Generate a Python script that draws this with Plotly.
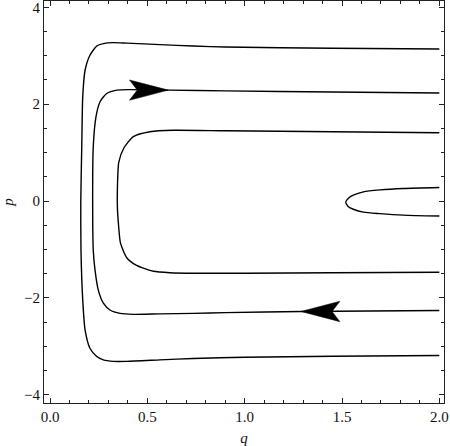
import plotly.graph_objects as go

# curve data (q, p), each traced from top-right, round the wall, to bottom-right
curve_a_q = [2.0, 1.45, 0.9, 0.736, 0.565, 0.394, 0.325, 0.274, 0.240, 0.205, 0.180, 0.168, 0.163, 0.158,
             0.159, 0.168, 0.180, 0.205, 0.240, 0.274, 0.325, 0.394, 0.565, 0.736, 1.0, 1.45, 2.0]
curve_a_p = [3.14, 3.155, 3.18, 3.20, 3.23, 3.26, 3.27, 3.25, 3.20, 3.01, 2.70, 2.15, 1.12, 0.0,
             -1.01, -2.04, -2.66, -3.04, -3.21, -3.28, -3.31, -3.31, -3.28, -3.25, -3.225, -3.205, -3.19]

curve_b_q = [2.0, 1.45, 0.9, 0.61, 0.411, 0.343, 0.291, 0.257, 0.236, 0.222, 0.219,
             0.222, 0.231, 0.248, 0.274, 0.308, 0.360, 0.428, 0.565, 0.736, 0.9, 1.29, 2.0]
curve_b_p = [2.23, 2.25, 2.275, 2.29, 2.30, 2.29, 2.22, 2.05, 1.74, 1.12, 0.0,
             -1.01, -1.42, -1.84, -2.11, -2.25, -2.32, -2.34, -2.33, -2.32, -2.305, -2.28, -2.26]

curve_c_q = [2.0, 1.45, 0.9, 0.633, 0.514, 0.428, 0.38, 0.353, 0.346, 0.346, 0.352, 0.362,
             0.394, 0.445, 0.531, 0.616, 0.75, 1.0, 1.45, 2.0]
curve_c_p = [1.41, 1.43, 1.45, 1.46, 1.43, 1.33, 1.10, 0.80, 0.23, -0.12, -0.50, -0.87,
             -1.17, -1.33, -1.45, -1.48, -1.49, -1.49, -1.48, -1.47]

curve_d_q = [2.0, 1.815, 1.695, 1.610, 1.558, 1.533, 1.519, 1.533, 1.558, 1.610, 1.695, 1.815, 2.0]
curve_d_p = [0.28, 0.26, 0.23, 0.19, 0.12, 0.056, -0.027, -0.12, -0.17, -0.23, -0.26, -0.29, -0.31]

# arrowheads: tip position and direction along q
arrow_q = [0.608, 1.289]
arrow_p = [2.29, -2.28]
arrow_dir = [1, -1]

curves = [(curve_a_q, curve_a_p), (curve_b_q, curve_b_p), (curve_c_q, curve_c_p), (curve_d_q, curve_d_p)]

fig = go.Figure()

for cq, cp in curves:
    fig.add_trace(go.Scatter(x=cq, y=cp, mode='lines',
                             line=dict(color='black', width=1.4, shape='spline', smoothing=0.6),
                             hoverinfo='skip', showlegend=False))

# arrowhead shape in data units
head_len, head_half, notch = 0.20, 0.21, 0.04
for tq, tp, d in zip(arrow_q, arrow_p, arrow_dir):
    xs = [tq, tq - d * head_len, tq - d * (head_len - notch), tq - d * head_len, tq]
    ys = [tp, tp + head_half, tp, tp - head_half, tp]
    fig.add_trace(go.Scatter(x=xs, y=ys, mode='lines', fill='toself', fillcolor='black',
                             line=dict(color='black', width=0.5),
                             hoverinfo='skip', showlegend=False))

tick_font = dict(family='Liberation Serif, DejaVu Serif, serif', size=15, color='#111')
title_font = dict(family='Liberation Serif, DejaVu Serif, serif', size=15, color='#111')

fig.update_layout(
    width=450, height=446,
    margin=dict(l=44, r=6, t=1, b=43),
    paper_bgcolor='white', plot_bgcolor='white',
    xaxis=dict(range=[-0.031, 2.024], showgrid=False, zeroline=False, automargin=False,
               showline=True, linecolor='#222', linewidth=1, mirror='allticks',
               ticks='inside', ticklen=5, tickcolor='#222', tickvals=[0, 0.5, 1.0, 1.5, 2.0],
               tickformat='.1f', tickfont=tick_font, ticklabeloverflow='allow',
               minor=dict(ticks='inside', ticklen=3, dtick=0.1, tick0=0, tickcolor='#222', showgrid=False),
               title=dict(text='<i>q</i>', font=title_font, standoff=8)),
    yaxis=dict(range=[-4.17, 4.13], showgrid=False, zeroline=False, automargin=False,
               showline=True, linecolor='#222', linewidth=1, mirror='allticks',
               ticks='inside', ticklen=5, tickcolor='#222', tickvals=[-4, -2, 0, 2, 4],
               tickfont=tick_font, ticklabeloverflow='allow',
               minor=dict(ticks='inside', ticklen=3, dtick=0.5, tick0=0, tickcolor='#222', showgrid=False),
               title=dict(text='<i>p</i>', font=title_font, standoff=10)),
)

# drop the browser's default body margin so the figure sits at the page corner
fig.write_html("out.html", config={'displayModeBar': False},
               post_script="document.body.style.margin='0';")
